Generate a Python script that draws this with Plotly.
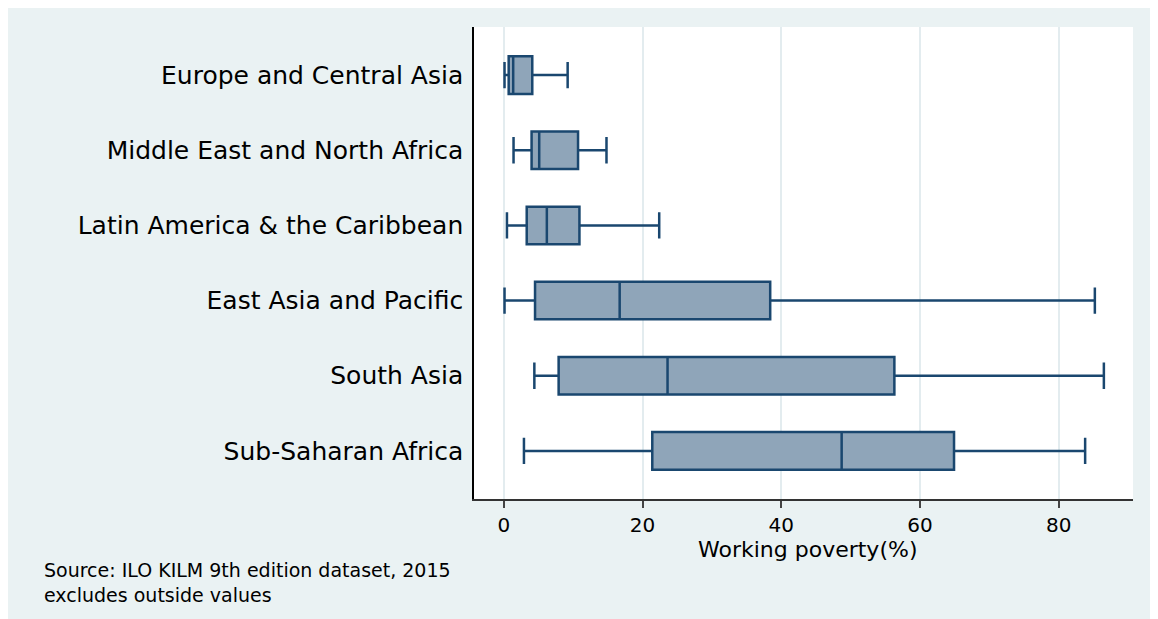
import plotly.graph_objects as go

regions = ["Europe and Central Asia", "Middle East and North Africa",
           "Latin America & the Caribbean", "East Asia and Pacific",
           "South Asia", "Sub-Saharan Africa"]
lower_whisker = [0.1, 1.4, 0.45, 0.1, 4.4, 2.9]
q1 = [0.7, 4.0, 3.3, 4.5, 7.9, 21.4]
median = [1.35, 5.1, 6.2, 16.7, 23.6, 48.7]
q3 = [4.1, 10.7, 10.9, 38.4, 56.3, 64.9]
upper_whisker = [9.2, 14.8, 22.4, 85.2, 86.5, 83.8]
x_ticks = [0, 20, 40, 60, 80]

FONT = "DejaVu Sans"
BG = "#EAF2F3"
NAVY = "#1A476F"

fig = go.Figure()
fig.add_trace(go.Box(
    y=regions, q1=q1, median=median, q3=q3,
    lowerfence=lower_whisker, upperfence=upper_whisker,
    orientation="h", boxpoints=False,
    fillcolor="#8FA5B9", line=dict(color=NAVY, width=2.5),
    width=0.5, whiskerwidth=0.7, showlegend=False, hoverinfo="skip",
))

fig.update_layout(
    width=1150, height=611,
    margin=dict(l=466, r=25, t=19, b=120, pad=0),
    paper_bgcolor=BG, plot_bgcolor="white",
    font=dict(family=FONT, color="black"),
    xaxis=dict(
        range=[-4.3, 90.7], tickvals=x_ticks, ticktext=[str(v) for v in x_ticks],
        showgrid=True, gridcolor="#E3ECEF", gridwidth=1.5,
        zeroline=False, showline=True, linecolor="#333333", linewidth=1.5,
        ticks="outside", ticklen=7, tickcolor="#444444", tickwidth=1.5,
        tickfont=dict(size=20, family=FONT, color="black"),
    ),
    yaxis=dict(
        categoryorder="array", categoryarray=regions, range=[5.64, -0.64],
        showgrid=False, zeroline=False, showline=True, linecolor="black", linewidth=1.5,
        ticks="", ticklabelstandoff=4,
        tickfont=dict(size=25, family=FONT, color="black"),
    ),
    annotations=[
        dict(text="Working poverty(%)", xref="paper", yref="paper",
             x=0.506, y=(491 - 541) / 472, xanchor="center", yanchor="middle", showarrow=False,
             font=dict(size=22, family=FONT, color="black")),
        dict(text="Source: ILO KILM 9th edition dataset, 2015<br>excludes outside values",
             xref="paper", yref="paper", align="left",
             x=-0.6555, y=(491 - 574) / 472, xanchor="left", yanchor="middle", showarrow=False,
             font=dict(size=19, family=FONT, color="black")),
    ],
)

fig.write_html("out.html")
